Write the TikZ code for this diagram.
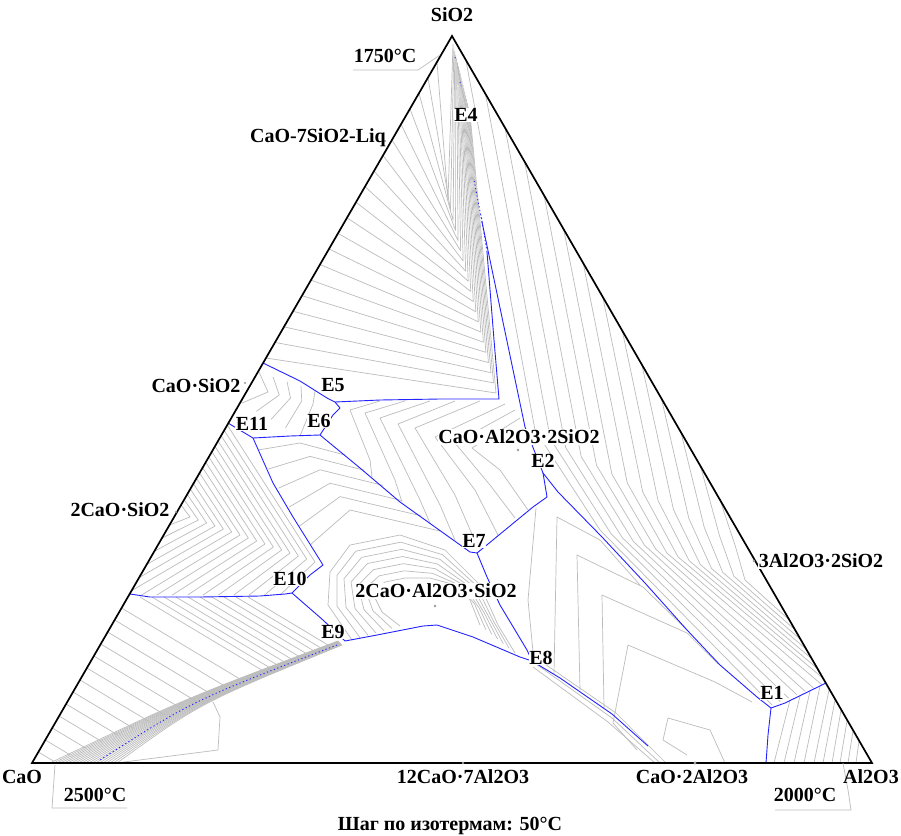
\documentclass[tikz,border=0pt]{standalone}
\usepackage{fontspec}
\setmainfont{Liberation Serif}
\usetikzlibrary{calc}
\definecolor{isog}{RGB}{188,188,188}
\definecolor{bnd}{RGB}{35,35,255}
\begin{document}
\begin{tikzpicture}[x=1pt,y=-1pt,
 iso/.style={draw=isog,line width=0.7pt,line join=round},
 bline/.style={draw=bnd,line width=0.9pt,line join=round},
 bdot/.style={draw=bnd,line width=0.9pt,dash pattern=on 1.2pt off 2.5pt},
 edge/.style={draw=black,line width=1.7pt},
 lab/.style={font=\fontsize{20}{22}\selectfont\bfseries,inner sep=0.5pt,fill=white},
 labn/.style={font=\fontsize{20}{22}\selectfont\bfseries,inner sep=0.5pt},
 mk/.style={fill=gray!80,draw=none}]
\useasboundingbox (0,0) rectangle (901,835);
\fill[white] (0,0) rectangle (901,835);
% corners and invariant points
\coordinate (S) at (452,36);
\coordinate (C) at (32,763);
\coordinate (A) at (872,763);
\coordinate (E1) at (771,708);
\coordinate (E2) at (543,473);
\coordinate (E5) at (335,402);
\coordinate (E6) at (320,435);
\coordinate (E7) at (477,553);
\coordinate (E8) at (532,661);
\coordinate (E9) at (345,641);
\coordinate (E10) at (292,593);
\coordinate (E11) at (253,438);
% ---------------- isotherms ----------------
% silica field
\foreach \i in {0,...,19}{
 \pgfmathsetmacro\t{\i/19}
 \pgfmathsetmacro\ya{62+296*\t}
 \pgfmathsetmacro\xa{452-(\ya-36)*0.5777}
 \draw[iso] (\xa,\ya) -- ({448+48*\t},{200+193*\t}) -- ({453+17*\t},{44+70*\t});
}
% mullite field
\foreach \i in {0,...,13}{
 \pgfmathsetmacro\t{\i/13}
 \pgfmathsetmacro\ys{500-440*\t}
 \pgfmathsetmacro\xs{452+(\ys-36)*0.5777}
 \pgfmathsetmacro\ey{\t<0.5 ? 620+126*\t : 683+44*(\t-0.5)}
 \pgfmathsetmacro\ex{\t<0.5 ? 452+(\ey-36)*0.5777 : 826-108*(\t-0.5)}
 \draw[iso] (\xs,\ys) -- ({735-200*\t},{545-115*\t}) -- ({745-145*\t},{580-50*\t}) -- (\ex,\ey);
}
% corundum field
\foreach \tx/\ty/\bx in {790/700/774, 800/696/784, 810/691/794, 820/686/804, 829/690/814, 835/700/823, 841/710/832, 847/721/840, 853/731/848, 859/741/856}{
 \draw[iso] (\tx,\ty) -- (\bx,763);
}
% CaO.2Al2O3 field
\draw[iso] (554,674) -- (557,517) -- (600,540) -- (640,585);
\draw[iso] (580,690) -- (577,555) -- (643,587) -- (687,630);
\draw[iso] (604,708) -- (602,595) -- (687,633) -- (718,664);
\draw[iso] (637,750) -- (613,723) -- (628,645) -- (715,682) -- (752,702);
\draw[iso] (687,755) -- (663,740) -- (668,718) -- (710,730) -- (725,763);
\draw[iso] (536,508) -- (528,600) -- (533,652);
\draw[iso] (536,664) -- (612,718) -- (660,763);
\draw[iso] (539,660) -- (616,713) -- (666,763);
\draw[iso] (533,667) -- (608,722) -- (655,763);
% anorthite field
\draw[iso] (520,418) -- (472,448) -- (500,470) -- (528,510);
\draw[iso] (515,410) -- (455,443) -- (490,485) -- (515,518);
\draw[iso] (505,404) -- (435,437) -- (475,490) -- (498,535);
\draw[iso] (480,401) -- (415,428) -- (455,495) -- (478,548);
\draw[iso] (455,401) -- (398,424) -- (440,505) -- (455,540);
\draw[iso] (430,401) -- (380,418) -- (420,500) -- (430,523);
\draw[iso] (405,401) -- (365,413) -- (395,480) -- (402,502);
\draw[iso] (380,401) -- (350,410) -- (370,460) -- (372,477);
% wollastonite field
\foreach \i in {0,...,4}{
 \pgfmathsetmacro\t{\i/4}
 \draw[iso] ({259+56*\t},{372+19*\t}) -- ({268+45*\t},{392+12*\t}) -- ({242+58*\t},{403+33*\t});
}
% 2CaO.SiO2 field
\foreach \i in {0,...,15}{
 \pgfmathsetmacro\t{\i/15}
 \pgfmathsetmacro\ya{505-80*\t}
 \pgfmathsetmacro\xa{452-(\ya-36)*0.5777}
 \pgfmathsetmacro\ey{\t<0.35 ? 525+69*\t/0.35 : 595}
 \pgfmathsetmacro\ex{\t<0.35 ? 452-(\ey-36)*0.5777 : 130+150*(\t-0.35)/0.65}
 \draw[iso] (\xa,\ya) -- ({190+125*\t},{517+45*\t}) -- (\ex,\ey);
}
% gehlenite field, upper part
\foreach \i in {0,...,5}{
 \pgfmathsetmacro\t{\i/5}
 \draw[iso] ({258+52*\t},{450+95*\t}) -- ({300+50*\t},{443+67*\t}) -- ({345+95*\t},{455+76*\t});
}
% gehlenite field, lower part
\foreach \t in {0,0.1667,0.3333,0.5,0.6667,0.8333,1}{
 \draw[iso] ($(400,626)!\t!(352,640)$) -- ($(382,612)!\t!(328,605)$) -- ($(372,592)!\t!(330,572)$) -- ($(385,582)!\t!(350,545)$) -- ($(405,578)!\t!(400,535)$) -- ($(430,578)!\t!(445,550)$) -- ($(455,585)!\t!(480,585)$) -- ($(470,600)!\t!(498,625)$) -- ($(480,625)!\t!(515,653)$);
}
% CaO field
\foreach \xa in {140,152,...,256}{
 \pgfmathsetmacro\xb{(783.7-597+0.6*\xa)/1.0136}
 \pgfmathsetmacro\yb{597+0.6*(\xb-\xa)}
 \draw[iso] (\xa,597) -- (\xb,\yb);
}
\foreach \ya in {608,620,...,752}{
 \pgfmathsetmacro\xa{452-(\ya-36)*0.5777}
 \pgfmathsetmacro\xb{(783.7-\ya+0.6*\xa)/1.0136}
 \pgfmathsetmacro\yb{\ya+0.6*(\xb-\xa)}
 \draw[iso] (\xa,\ya) -- (\xb,\yb);
}
% dense band towards CaO
\foreach \k in {0,...,19}{
 \pgfmathsetmacro\s{\k/19}
 \draw[iso] ({338+4*\s},{641+4*\s}) .. controls ({184+16*\s},{699+4*\s}) .. ({50+67*\s},763);
}
\draw[iso] (213,702) -- (220,717) -- (218,750) -- (116,763);
% ---------------- boundary curves ----------------
\draw[bline] (263,363) -- (300,381) -- (327,398) -- (E5);
\draw[bline] (E5) -- (380,400) -- (440,399) -- (499,399) -- (494,340) -- (487,252);
\draw[bdot] (487,252) -- (481,215);
\draw[bline] (482,222) -- (525,427) -- (E2);
\draw[bdot] (482,222) -- (474,180);
\draw[bdot] (455,57) -- (456,60) (460,82) -- (461,86);
\draw[bline] (E5) -- (340,408) -- (333,415) -- (E6);
\draw[bline] (E11) -- (290,436) -- (E6);
\draw[bline] (228,423) -- (E11);
\draw[bline] (E6) -- (360,468) -- (400,502) -- (463,547) -- (470,552) -- (E7);
\draw[bline] (E11) -- (273,483) -- (293,517) -- (323,565) -- (310,575) -- (E10);
\draw[bline] (130,594) -- (150,597) -- (200,597) -- (260,596) -- (285,594) -- (E10);
\draw[bline] (E10) -- (300,600) -- (323,620) -- (E9);
\draw[bline] (E9) -- (377,635) -- (423,626) -- (437,625) -- (473,637) -- (520,657) -- (E8);
\draw[bline] (E8) -- (560,678) -- (612,714) -- (648,746);
\draw[bline] (E7) -- (487,577) -- (500,605) -- (527,650) -- (E8);
\draw[bline] (E7) -- (488,544) -- (533,507) -- (547,497) -- (E2);
\draw[bline] (E2) -- (558,492) -- (602,537) -- (645,583) -- (687,630) -- (720,665) -- (757,697) -- (E1);
\draw[bline] (E1) -- (785,703) -- (826,683);
\draw[bline] (E1) -- (768,735) -- (766,763);
\draw[bdot] (337,645) .. controls (192,701) .. (100,760);
% ---------------- triangle ----------------
\draw[edge] (S) -- (C) -- (A) -- cycle;
% leaders of the temperature labels
\draw[iso] (353,70) -- (418,70) -- (440,55);
\draw[iso] (55,765) -- (52,808) -- (127,808);
\draw[iso] (775,810) -- (851,810) -- (848,790) -- (843,763);
% compound marks
\fill[mk] (518,450) circle (1.4);
\fill[mk] (435,606) circle (1.4);
\fill[mk] (695,763) circle (1.6);
\fill[mk] (463,763) circle (1.4);
\fill[mk] (176,512) circle (1.2);
\fill[mk] (245,383) circle (1.2);
\fill[mk] (385,141) circle (1.2);
\fill[mk] (754,561) circle (1.3);
% ---------------- labels ----------------
\node[labn] (tSiO2) at (452,15) {SiO2};
\node[labn] (t1750) at (385,56) {1750°C};
\node[lab] (tE4) at (466,115) {E4};
\node[labn] (tLiq) at (318,138) {CaO-7SiO2-Liq};
\node[labn] (tCS) at (196,386) {CaO·SiO2};
\node[lab] (tE5) at (333,385) {E5};
\node[lab] (tE6) at (319,421) {E6};
\node[lab] (tE11) at (252,424) {E11};
\node[lab] (tCAS2) at (519,437) {CaO·Al2O3·2SiO2};
\node[lab] (tE2) at (543,461) {E2};
\node[labn] (tC2S) at (120,510) {2CaO·SiO2};
\node[lab] (tE7) at (474,541) {E7};
\node[lab] (tA3S2) at (821,561) {3Al2O3·2SiO2};
\node[lab] (tE10) at (290,579) {E10};
\node[lab] (tC2AS) at (436,591) {2CaO·Al2O3·SiO2};
\node[lab] (tE9) at (333,632) {E9};
\node[lab] (tE8) at (541,658) {E8};
\node[lab] (tE1) at (772,693) {E1};
\node[labn] (tCaO) at (22,777) {CaO};
\node[labn] (tC12A7) at (463,777) {12CaO·7Al2O3};
\node[labn] (tCA2) at (692,777) {CaO·2Al2O3};
\node[labn] (tAl) at (871,777) {Al2O3};
\node[labn] (t2500) at (95,795) {2500°C};
\node[labn] (t2000) at (805,795) {2000°C};
\node[labn] (tstep) at (450,826) {Шаг по изотермам: 50°C};
\end{tikzpicture}
\end{document}
